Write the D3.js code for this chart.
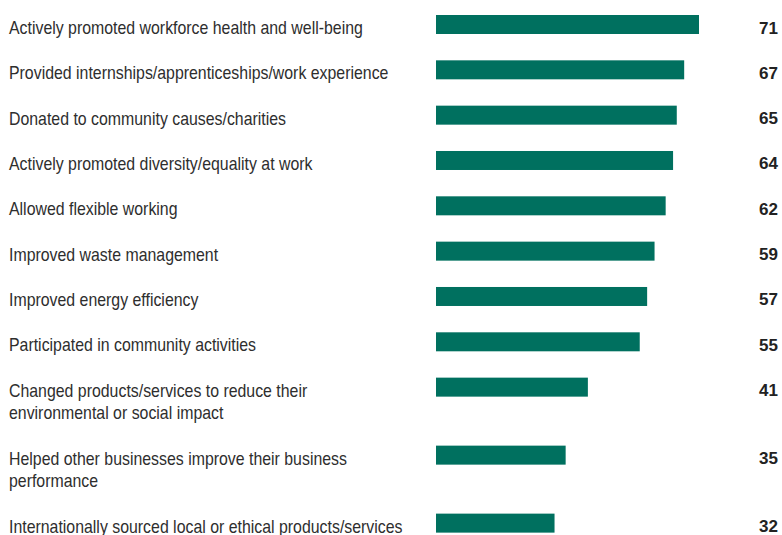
<!DOCTYPE html>
<html>
<head>
<meta charset="utf-8">
<script src="https://cdn.jsdelivr.net/npm/d3@7"></script>
<style>
  html, body { margin: 0; padding: 0; background: #ffffff; }
  svg { display: block; }
</style>
</head>
<body>
<svg id="chart" width="782" height="535"></svg>
<script>
// Share of businesses (%) taking each action, lines of each label as shown
const categories = [
  ["Actively promoted workforce health and well-being"],
  ["Provided internships/apprenticeships/work experience"],
  ["Donated to community causes/charities"],
  ["Actively promoted diversity/equality at work"],
  ["Allowed flexible working"],
  ["Improved waste management"],
  ["Improved energy efficiency"],
  ["Participated in community activities"],
  ["Changed products/services to reduce their", "environmental or social impact"],
  ["Helped other businesses improve their business", "performance"],
  ["Internationally sourced local or ethical products/services"]
];
const values = [71, 67, 65, 64, 62, 59, 57, 55, 41, 35, 32];

const svg = d3.select("#chart");
const barColor = "#00705f";
const textColor = "#2e2e2e";
const labelFont = "'Liberation Sans', Arial, sans-serif";
const condense = 0.882; // horizontal squeeze for a narrow label face

// Row offsets in row units: each extra label line adds half a row
const offsets = [];
let acc = 0;
categories.forEach(lines => { offsets.push(acc); acc += 1 + 0.5 * (lines.length - 1); });

const x = d3.scaleLinear().domain([0, 71]).range([436, 699]);
const y = d3.scaleLinear().domain([0, 1]).range([15, 60.33]);
const barH = 19;
const lineH = 22.6;

const rows = svg.selectAll("g.row")
  .data(values.map((v, i) => ({ v, lines: categories[i], off: offsets[i] })))
  .join("g")
  .attr("class", "row");

rows.append("rect")
  .attr("x", x(0))
  .attr("y", d => y(d.off))
  .attr("width", d => x(d.v) - x(0))
  .attr("height", barH)
  .attr("fill", barColor);

rows.append("text")
  .attr("transform", `translate(9,0) scale(${condense},1)`)
  .attr("x", 0)
  .attr("y", d => y(d.off) + barH)
  .attr("font-family", labelFont)
  .attr("font-size", 18)
  .attr("fill", textColor)
  .selectAll("tspan")
  .data(d => d.lines)
  .join("tspan")
  .attr("x", 0)
  .attr("dy", (d, i) => i === 0 ? 0 : lineH)
  .text(d => d);

rows.append("text")
  .attr("x", 778)
  .attr("y", d => y(d.off) + barH - 0.5)
  .attr("text-anchor", "end")
  .attr("font-family", labelFont)
  .attr("font-weight", "bold")
  .attr("font-size", 17)
  .attr("fill", "#222222")
  .text(d => d.v);
</script>
</body>
</html>
